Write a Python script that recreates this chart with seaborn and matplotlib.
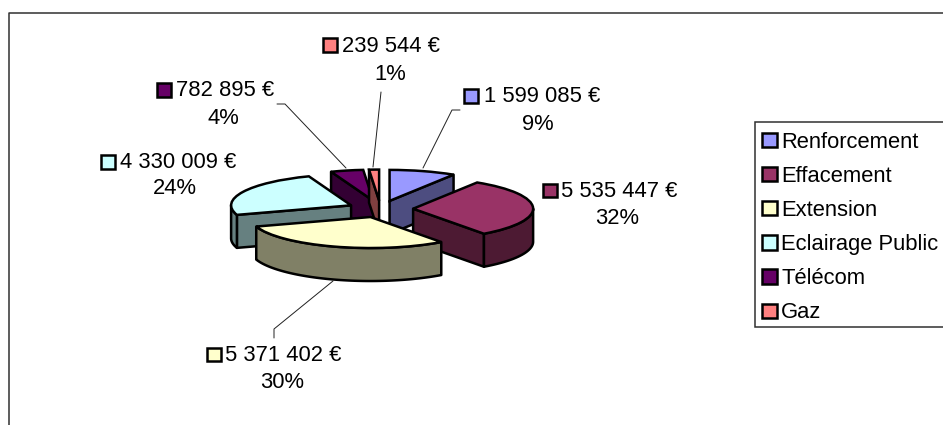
import numpy as np
import seaborn as sns
import matplotlib
matplotlib.use("Agg")
import matplotlib.pyplot as plt
from matplotlib.lines import Line2D
from matplotlib.patches import Rectangle
from matplotlib.transforms import Affine2D

# --- data ---
categories = ["Renforcement", "Effacement", "Extension", "Eclairage Public", "Télécom", "Gaz"]
values = [1599085, 5535447, 5371402, 4330009, 782895, 239544]
percent_labels = ["9%", "32%", "30%", "24%", "4%", "1%"]
colors = ["#9999FF", "#993366", "#FFFFCC", "#CCFFFF", "#660066", "#FF8080"]

# --- layout, in pixels of the 943x425 image ---
WIDTH, HEIGHT = 943, 425
CX, CY = 380.5, 209      # pie centre
RX, RY = 120, 31         # tilted radius
DEPTH = 33               # height of the slices
EXPLODE = 0.272
EDGE = 1.8
draw_order = [0, 4, 5, 3, 1, 2]  # back to front

marker_xy = [(464, 89), (543, 184), (207, 348), (101, 155), (157, 83), (323, 38)]
amount_xy = [(484, 97), (561, 192), (225, 356), (120, 162), (176, 91), (342, 46)]
percent_xy = [(538, 124), (617, 219), (282, 383), (175, 189), (223, 118), (390, 74)]
leaders = [
    [(460, 110), (452, 110), (423, 168)],
    [(333, 281), (274, 329), (274, 338)],
    [(277, 104), (285, 104), (346, 168)],
    [(381, 92), (373, 167)],
]

sns.set_theme(style="white")
plt.rcParams["font.family"] = ["Liberation Sans", "DejaVu Sans"]
palette = sns.color_palette(colors)
FONT = 15.8

fig = plt.figure(figsize=(WIDTH / 100, HEIGHT / 100), dpi=100)
ax = fig.add_axes([0, 0, 1, 1])

# Top faces come straight from pie(); the y axis is squeezed afterwards to tilt them
wedges, _ = ax.pie(values, colors=palette, explode=[EXPLODE] * len(values),
                   startangle=90, counterclock=False,
                   wedgeprops=dict(edgecolor="black", linewidth=EDGE))
ax.set_aspect("auto")
ax.set_xlim(-CX / RX, (WIDTH - CX) / RX)
ax.set_ylim((CY - HEIGHT) / RY, CY / RY)
depth = DEPTH / RY

# Side walls
ends = np.cumsum(values) / np.sum(values) * 360
starts = np.r_[0, ends[:-1]]
dark = [tuple(c * 0.5 for c in col) for col in palette]


def rim(angle):
    return np.sin(np.radians(angle)), np.cos(np.radians(angle))


for z, i in enumerate(draw_order):
    a0, a1 = starts[i], ends[i]
    mid = np.radians((a0 + a1) / 2)
    ox, oy = EXPLODE * np.sin(mid), EXPLODE * np.cos(mid)
    wall = dict(facecolor=dark[i], edgecolor="black", linewidth=EDGE,
                joinstyle="round", zorder=z * 2)

    # radial faces turned towards the viewer
    for angle, visible in ((a0, np.sin(np.radians(a0)) < 0), (a1, np.sin(np.radians(a1)) > 0)):
        if visible:
            x, y = rim(angle)
            ax.fill([ox, ox + x, ox + x, ox], [oy, oy + y, oy + y - depth, oy - depth], **wall)

    # curved face, front half only
    lo, hi = max(a0, 90), min(a1, 270)
    if lo < hi:
        t = np.radians(np.linspace(lo, hi, 80))
        xs = ox + np.sin(t)
        ys = oy + np.cos(t)
        ax.fill(np.r_[xs, xs[::-1]], np.r_[ys, ys[::-1] - depth], **wall)

    wedges[i].set_zorder(z * 2 + 1)

# Everything else is placed in image pixels
px = Affine2D().scale(1 / WIDTH, -1 / HEIGHT).translate(0, 1) + fig.transFigure

# Chart border, cut by the image on the right and at the bottom
fig.add_artist(Line2D([8.5, 8.5, WIDTH], [HEIGHT, 13.5, 13.5], transform=px,
                      color="#303030", linewidth=1.1))

for pts in leaders:
    xs, ys = zip(*pts)
    fig.add_artist(Line2D(xs, ys, transform=px, color="#202020", linewidth=0.7))

for i, value in enumerate(values):
    mx, my = marker_xy[i]
    fig.add_artist(Rectangle((mx, my), 13.5, 13.5, transform=px, facecolor=palette[i],
                             edgecolor="black", linewidth=EDGE))
    amount = f"{value:,}".replace(",", " ") + " €"
    fig.text(*amount_xy[i], amount, transform=px, fontsize=FONT, color="black",
             ha="left", va="center")
    fig.text(*percent_xy[i], percent_labels[i], transform=px, fontsize=FONT, color="black",
             ha="center", va="center")

# Legend box drawn apart: its bottom margin is tighter than legend() would give
fig.add_artist(Rectangle((754.5, 121.5), 200, 205.5, transform=px, facecolor="white",
                         edgecolor="#303030", linewidth=1.1))
legend = fig.legend(wedges, categories, loc="upper left",
                    bbox_to_anchor=(752.5 / WIDTH, 1 - 122 / HEIGHT), borderaxespad=0,
                    fontsize=FONT, frameon=False,
                    handlelength=0.66, handleheight=0.62,
                    handletextpad=0.2, labelspacing=0.6, borderpad=0.44, labelcolor="black")

plt.savefig("out.png", dpi=100)
